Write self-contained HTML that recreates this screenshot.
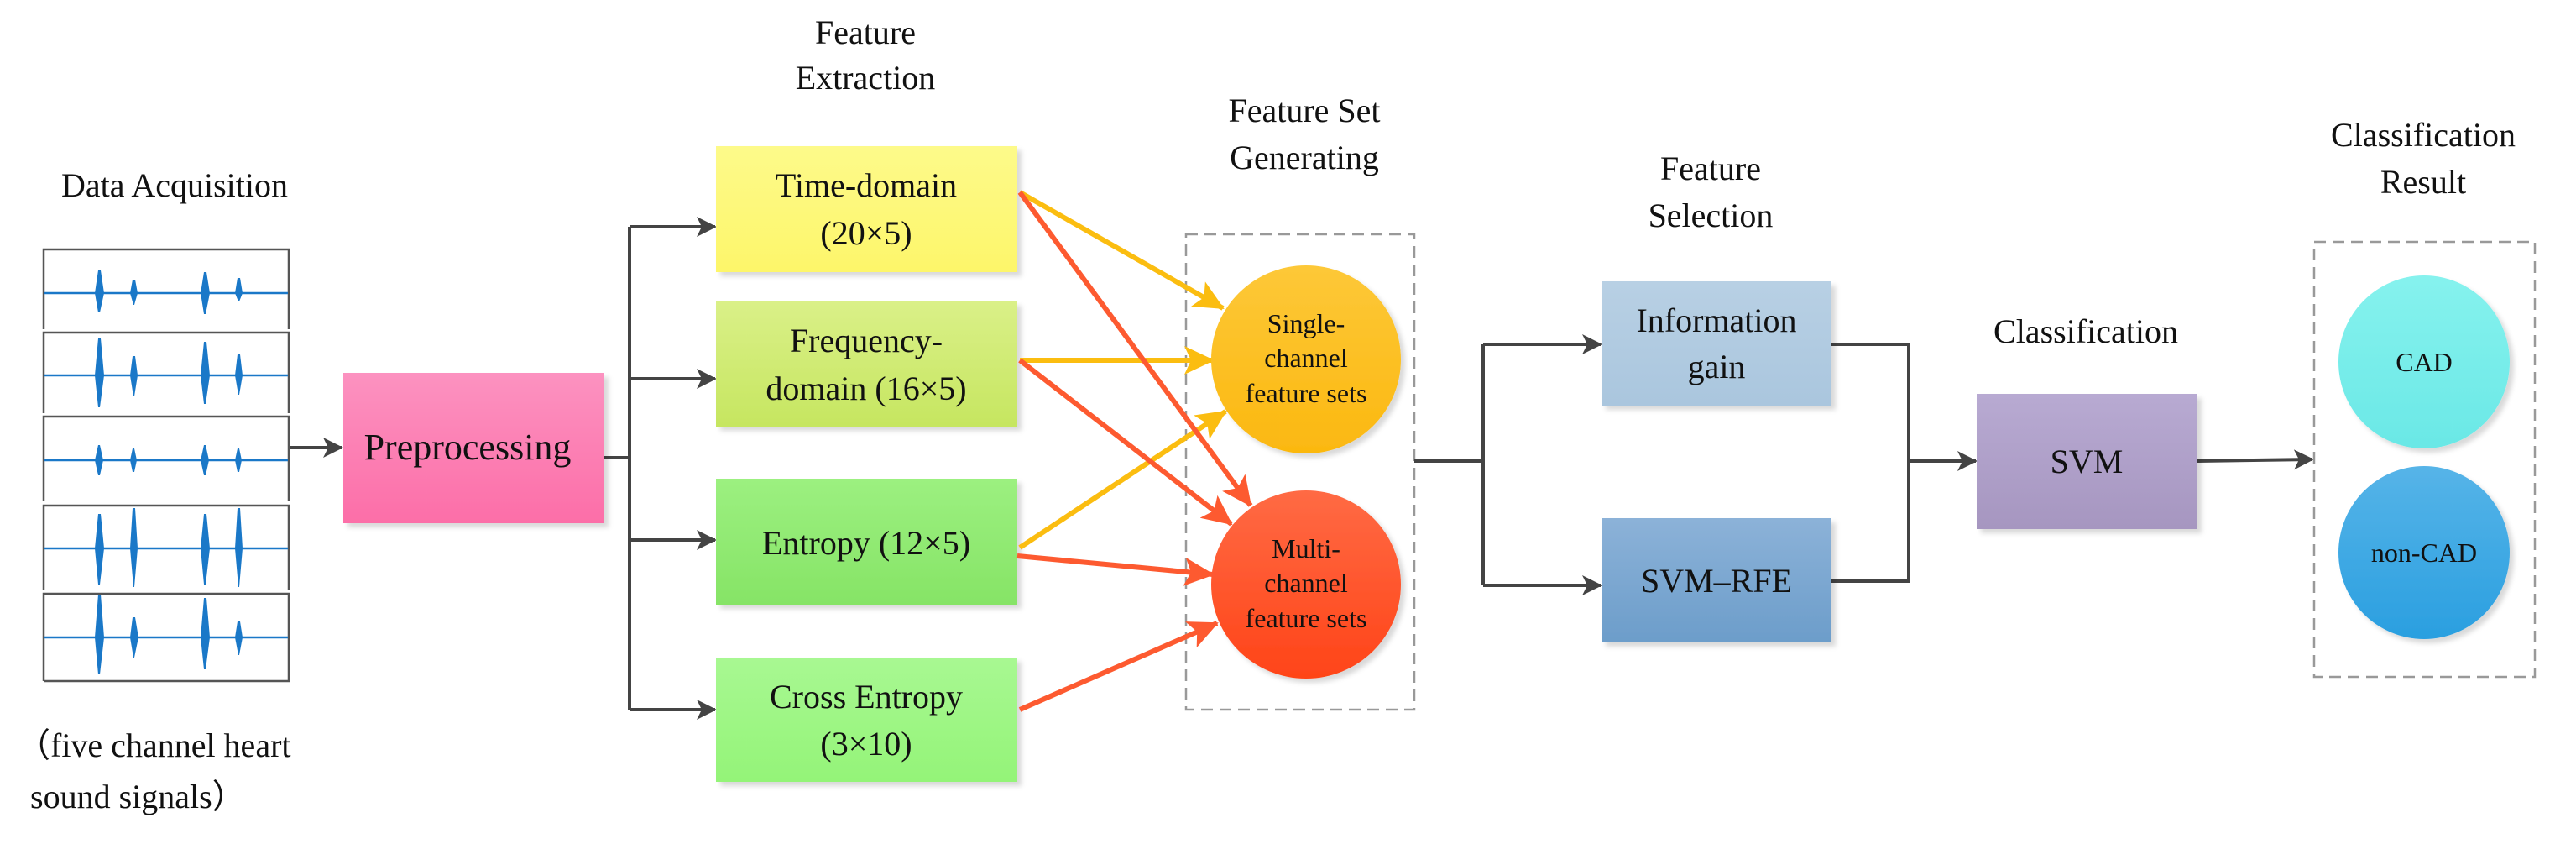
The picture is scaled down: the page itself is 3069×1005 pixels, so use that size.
<!DOCTYPE html>
<html><head><meta charset="utf-8"><style>
html,body{margin:0;padding:0;background:#fff}
svg{display:block}
</style></head><body>
<svg width="3069" height="1005" viewBox="0 0 3069 1005" xmlns="http://www.w3.org/2000/svg" font-family="'Liberation Serif', 'DejaVu Serif', serif" fill="#111">
<defs>
<linearGradient id="gT" x1="0" y1="0" x2="0" y2="1"><stop offset="0" stop-color="#fdfa8a"/><stop offset="1" stop-color="#fdf66a"/></linearGradient>
<linearGradient id="gF" x1="0" y1="0" x2="0" y2="1"><stop offset="0" stop-color="#daf088"/><stop offset="1" stop-color="#c6e660"/></linearGradient>
<linearGradient id="gE" x1="0" y1="0" x2="0" y2="1"><stop offset="0" stop-color="#9cf080"/><stop offset="1" stop-color="#86e466"/></linearGradient>
<linearGradient id="gC" x1="0" y1="0" x2="0" y2="1"><stop offset="0" stop-color="#a8f892"/><stop offset="1" stop-color="#94f478"/></linearGradient>
<linearGradient id="gP" x1="0" y1="0" x2="0" y2="1"><stop offset="0" stop-color="#fc92c0"/><stop offset="1" stop-color="#fc6ea8"/></linearGradient>
<linearGradient id="gS" x1="0" y1="0" x2="0" y2="1"><stop offset="0" stop-color="#fdc838"/><stop offset="1" stop-color="#fbb810"/></linearGradient>
<linearGradient id="gM" x1="0" y1="0" x2="0" y2="1"><stop offset="0" stop-color="#ff6a44"/><stop offset="1" stop-color="#ff4418"/></linearGradient>
<linearGradient id="gI" x1="0" y1="0" x2="0" y2="1"><stop offset="0" stop-color="#b8d0e4"/><stop offset="1" stop-color="#aac6de"/></linearGradient>
<linearGradient id="gR" x1="0" y1="0" x2="0" y2="1"><stop offset="0" stop-color="#8cb2d8"/><stop offset="1" stop-color="#6c9dca"/></linearGradient>
<linearGradient id="gV" x1="0" y1="0" x2="0" y2="1"><stop offset="0" stop-color="#b8aad2"/><stop offset="1" stop-color="#a696c0"/></linearGradient>
<linearGradient id="gA" x1="0" y1="0" x2="0" y2="1"><stop offset="0" stop-color="#86f2ee"/><stop offset="1" stop-color="#6ae8e6"/></linearGradient>
<linearGradient id="gN" x1="0" y1="0" x2="0" y2="1"><stop offset="0" stop-color="#56b4e8"/><stop offset="1" stop-color="#2a9fe0"/></linearGradient>
<marker id="ak" markerWidth="24" markerHeight="24" refX="22" refY="12" orient="auto" markerUnits="userSpaceOnUse"><path d="M0,0 L24,12 L0,24 L6,12z" fill="#444"/></marker>
<marker id="ay" markerWidth="36" markerHeight="34" refX="34" refY="17" orient="auto" markerUnits="userSpaceOnUse"><path d="M0,0 L36,17 L0,34 L8,17z" fill="#fbbd10"/></marker>
<marker id="ar" markerWidth="36" markerHeight="34" refX="34" refY="17" orient="auto" markerUnits="userSpaceOnUse"><path d="M0,0 L36,17 L0,34 L8,17z" fill="#fd5a30"/></marker>
<filter id="sh" x="-10%" y="-10%" width="125%" height="125%"><feDropShadow dx="5" dy="5" stdDeviation="3" flood-color="#000" flood-opacity="0.15"/></filter>
</defs>

<g font-size="40" text-anchor="middle">
<text x="208" y="234">Data Acquisition</text>
<text x="1031" y="52">Feature</text>
<text x="1031" y="106">Extraction</text>
<text x="1554" y="145">Feature Set</text>
<text x="1554" y="201">Generating</text>
<text x="2038" y="214">Feature</text>
<text x="2038" y="270">Selection</text>
<text x="2485" y="408">Classification</text>
<text x="2887" y="174">Classification</text>
<text x="2887" y="230">Result</text>
</g>
<text x="20" y="901" font-size="40">（five channel heart</text>
<text x="36" y="962" font-size="40">sound  signals）</text>

<g stroke="#555" stroke-width="2.5" fill="none">
<path d="M52,392 V297 H344 V392"/>
<path d="M52,492 V396 H344 V492"/>
<path d="M52,597 V496 H344 V597"/>
<path d="M52,702 V602 H344 V702"/>
<path d="M52,811 V707 H344 V811 H52"/>
</g>
<g stroke="#1a78c8" stroke-width="2.5" fill="none">
<path d="M53,349 H343"/><path d="M53,447 H343"/><path d="M53,548 H343"/><path d="M53,653 H343"/><path d="M53,759 H343"/>
</g>
<g fill="#1a78c8">
<path d="M113,349 L117,322 L120,322 L124,349 L119,372 L117,372z"/><path d="M155,349 L158,333 L161,333 L164,349 L160,363 L159,363z"/><path d="M239,349 L243,324 L246,324 L250,349 L245,374 L243,374z"/><path d="M280,349 L283,331 L286,331 L289,349 L285,359 L284,359z"/>
<path d="M113,447 L117,403 L120,403 L124,447 L119,485 L117,485z"/><path d="M155,447 L158,424 L161,424 L164,447 L160,472 L159,472z"/><path d="M239,447 L243,407 L246,407 L250,447 L245,481 L243,481z"/><path d="M280,447 L283,422 L286,422 L289,447 L285,470 L284,470z"/>
<path d="M113,548 L117,530 L119,530 L123,548 L119,566 L117,566z"/><path d="M155,548 L158,534 L160,534 L163,548 L160,562 L158,562z"/><path d="M239,548 L243,530 L245,530 L249,548 L245,566 L243,566z"/><path d="M280,548 L283,534 L285,534 L288,548 L285,562 L283,562z"/>
<path d="M113,653 L117,612 L120,612 L124,653 L119,696 L117,696z"/><path d="M155,653 L158,605 L161,605 L164,653 L160,699 L159,699z"/><path d="M239,653 L243,612 L246,612 L250,653 L245,696 L243,696z"/><path d="M280,653 L283,605 L286,605 L289,653 L285,699 L284,699z"/>
<path d="M113,759 L117,708 L120,708 L124,759 L119,803 L117,803z"/><path d="M155,759 L158,735 L161,735 L165,759 L160,783 L159,783z"/><path d="M239,759 L243,712 L246,712 L250,759 L245,797 L243,797z"/><path d="M280,759 L283,740 L286,740 L289,759 L285,780 L284,780z"/>
</g>

<path d="M345,533 H407" stroke="#444" stroke-width="4" marker-end="url(#ak)" fill="none"/>
<path d="M700,545 H750" stroke="#444" stroke-width="4" fill="none"/>
<path d="M750,270 V845" stroke="#444" stroke-width="4"/>
<g stroke="#444" stroke-width="4" fill="none">
<path d="M750,270 H852" marker-end="url(#ak)"/>
<path d="M750,451 H852" marker-end="url(#ak)"/>
<path d="M750,643 H852" marker-end="url(#ak)"/>
<path d="M750,845 H852" marker-end="url(#ak)"/>
</g>

<rect x="409" y="444" width="311" height="179" fill="url(#gP)" filter="url(#sh)"/>
<text x="557" y="547" font-size="44" text-anchor="middle">Preprocessing</text>

<g filter="url(#sh)">
<rect x="853" y="174" width="359" height="150" fill="url(#gT)"/>
<rect x="853" y="359" width="359" height="149" fill="url(#gF)"/>
<rect x="853" y="570" width="359" height="150" fill="url(#gE)"/>
<rect x="853" y="783" width="359" height="148" fill="url(#gC)"/>
</g>
<g font-size="40" text-anchor="middle">
<text x="1032" y="234">Time-domain</text><text x="1032" y="291">(20×5)</text>
<text x="1032" y="419">Frequency-</text><text x="1032" y="476">domain (16×5)</text>
<text x="1032" y="660">Entropy (12×5)</text>
<text x="1032" y="843">Cross Entropy</text><text x="1032" y="899">(3×10)</text>
</g>

<rect x="1413" y="279" width="272" height="566" fill="none" stroke="#999" stroke-width="2.5" stroke-dasharray="14,8"/>

<g stroke-width="6" fill="none">
<path d="M1215,229 L1457,367" stroke="#fbbd10" marker-end="url(#ay)"/>
<path d="M1215,429 L1445,429" stroke="#fbbd10" marker-end="url(#ay)"/>
<path d="M1215,652 L1460,490" stroke="#fbbd10" marker-end="url(#ay)"/>
<path d="M1215,229 L1490,602" stroke="#fd5a30" marker-end="url(#ar)"/>
<path d="M1215,429 L1467,624" stroke="#fd5a30" marker-end="url(#ar)"/>
<path d="M1212,662 L1445,684" stroke="#fd5a30" marker-end="url(#ar)"/>
<path d="M1215,845 L1450,742" stroke="#fd5a30" marker-end="url(#ar)"/>
</g>

<g filter="url(#sh)">
<ellipse cx="1556" cy="428" rx="113" ry="112" fill="url(#gS)"/>
<ellipse cx="1556" cy="696" rx="113" ry="112" fill="url(#gM)"/>
</g>
<g font-size="32" text-anchor="middle">
<text x="1556" y="396">Single-</text><text x="1556" y="437">channel</text><text x="1556" y="479">feature sets</text>
<text x="1556" y="664">Multi-</text><text x="1556" y="705">channel</text><text x="1556" y="747">feature sets</text>
</g>

<g stroke="#444" stroke-width="4" fill="none">
<path d="M1685,549 H1767"/>
<path d="M1767,410 V697"/>
<path d="M1767,410 H1907" marker-end="url(#ak)"/>
<path d="M1767,697 H1907" marker-end="url(#ak)"/>
<path d="M2182,410 H2274 V692 H2182"/>
<path d="M2274,549 H2354" marker-end="url(#ak)"/>
<path d="M2618,549 L2755,547" marker-end="url(#ak)"/>
</g>
<g filter="url(#sh)">
<rect x="1908" y="335" width="274" height="148" fill="url(#gI)"/>
<rect x="1908" y="617" width="274" height="148" fill="url(#gR)"/>
<rect x="2355" y="469" width="263" height="161" fill="url(#gV)"/>
</g>
<g font-size="40" text-anchor="middle">
<text x="2045" y="395">Information</text><text x="2045" y="450">gain</text>
<text x="2045" y="705">SVM–RFE</text>
<text x="2486" y="563">SVM</text>
</g>

<rect x="2757" y="288" width="263" height="518" fill="none" stroke="#999" stroke-width="2.5" stroke-dasharray="14,8"/>
<g filter="url(#sh)">
<ellipse cx="2888" cy="431" rx="102" ry="103" fill="url(#gA)"/>
<ellipse cx="2888" cy="658" rx="102" ry="103" fill="url(#gN)"/>
</g>
<g font-size="32" text-anchor="middle">
<text x="2888" y="442">CAD</text>
<text x="2888" y="669">non-CAD</text>
</g>
</svg>
</body></html>
